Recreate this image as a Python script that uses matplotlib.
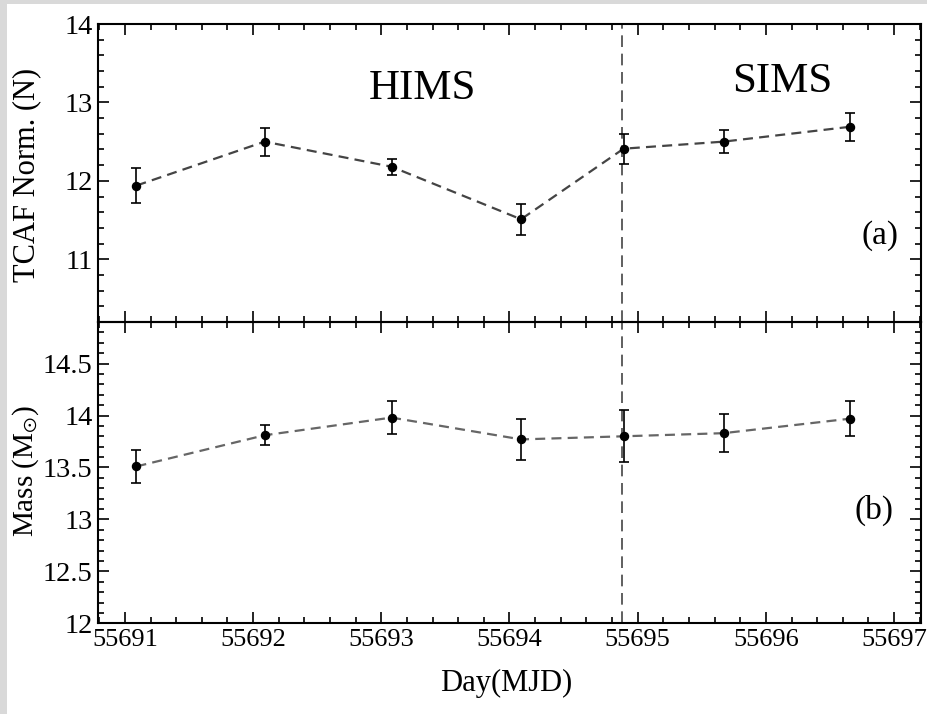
import matplotlib
matplotlib.use('Agg')
import matplotlib.pyplot as plt
from matplotlib.ticker import MultipleLocator, FormatStrFormatter
from matplotlib.patches import Rectangle

# ---------------- data ----------------
days = [55691.09, 55692.09, 55693.08, 55694.09, 55694.89, 55695.67, 55696.66]
tcaf_norm = [11.94, 12.50, 12.18, 11.51, 12.41, 12.50, 12.69]
tcaf_norm_err = [0.22, 0.18, 0.10, 0.20, 0.19, 0.15, 0.18]
mass = [13.51, 13.81, 13.98, 13.77, 13.80, 13.83, 13.97]
mass_err = [0.16, 0.095, 0.16, 0.20, 0.25, 0.18, 0.165]
transition_day = 55694.88
state_labels = ['HIMS', 'SIMS']
state_label_x = [55693.32, 55696.13]
state_label_y = [13.18, 13.26]
panel_labels = ['(a)', '(b)']
x_ticks = [55691, 55692, 55693, 55694, 55695, 55696, 55697]

plt.rcParams['font.family'] = ['Liberation Serif', 'DejaVu Serif']
plt.rcParams['mathtext.fontset'] = 'stix'

W, H = 927, 714
fig = plt.figure(figsize=(W / 100, H / 100), dpi=100)
fig.patch.set_facecolor('#d9d9d9')
fig.add_artist(Rectangle((7 / W, 0), 1, 1 - 4 / H, transform=fig.transFigure,
                         facecolor='white', edgecolor='none', zorder=-10))

left = 98 / W
width = (921 - 98) / W
y_top = 1 - 24 / H
y_mid = 1 - 322 / H
y_bot = 1 - 623.3 / H

ax1 = fig.add_axes([left, y_mid, width, y_top - y_mid])
ax2 = fig.add_axes([left, y_bot, width, y_mid - y_bot], sharex=ax1)

for ax, vals, errs, lcol in [(ax1, tcaf_norm, tcaf_norm_err, '#444444'),
                             (ax2, mass, mass_err, '#666666')]:
    ax.set_facecolor('none')
    ax.plot(days, vals, ls=(0, (4.5, 2.8)), color=lcol, lw=1.6, zorder=2)
    ax.errorbar(days, vals, yerr=errs, fmt='none', ecolor='black',
                elinewidth=1.2, capsize=3.6, capthick=1.2, zorder=3)
    ax.plot(days, vals, 'o', color='black', ms=5.8, zorder=4)
    ax.axvline(transition_day, color='#444444', lw=1.2, ls=(0, (7, 4)), zorder=1)
    for sp in ax.spines.values():
        sp.set_linewidth(1.5)
    ax.tick_params(which='both', direction='in', top=True, right=True,
                   width=1.2, pad=4)
    ax.tick_params(axis='x', labelsize=19)
    ax.tick_params(axis='y', labelsize=20.5)
    ax.tick_params(which='major', length=8)
    ax.tick_params(which='minor', length=4)
    ax.xaxis.set_minor_locator(MultipleLocator(0.2))

ax1.set_xlim(55690.79, 55697.21)
ax1.set_xticks(x_ticks)
ax1.tick_params(labelbottom=False)
ax2.xaxis.set_major_formatter(FormatStrFormatter('%d'))

ax1.set_ylim(10.2, 14)
ax1.yaxis.set_major_locator(MultipleLocator(1))
ax1.yaxis.set_minor_locator(MultipleLocator(0.2))
ax1.yaxis.set_major_formatter(FormatStrFormatter('%g'))

ax2.set_ylim(12, 14.9)
ax2.yaxis.set_major_locator(MultipleLocator(0.5))
ax2.yaxis.set_minor_locator(MultipleLocator(0.1))
ax2.yaxis.set_major_formatter(FormatStrFormatter('%g'))

for lab, x, y in zip(state_labels, state_label_x, state_label_y):
    ax1.text(x, y, lab, fontsize=31, ha='center', va='center')

ax1.text(55696.89, 11.30, panel_labels[0], fontsize=24, ha='center', va='center')
ax2.text(55696.84, 13.09, panel_labels[1], fontsize=24, ha='center', va='center')

fig.text(27 / W, 1 - 175 / H, 'TCAF Norm. (N)', rotation=90, fontsize=22,
         ha='center', va='center')
fig.text(26 / W, 1 - 471 / H, r'Mass (M$_{\odot}$)', rotation=90, fontsize=21,
         ha='center', va='center')
fig.text(506 / W, 1 - 683 / H, 'Day(MJD)', fontsize=22, ha='center', va='center')

fig.savefig('out.png', dpi=100, facecolor=fig.get_facecolor())
